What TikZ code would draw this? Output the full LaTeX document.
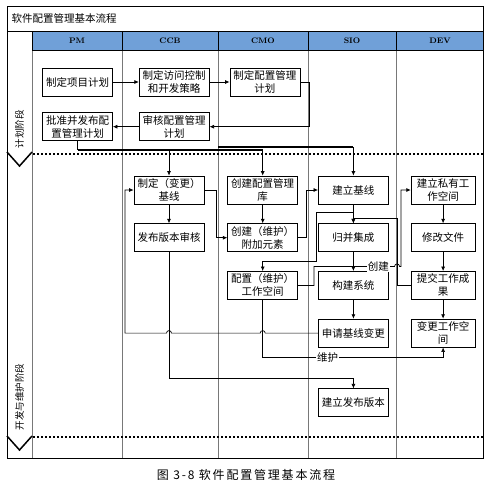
\documentclass[tikz,border=0pt]{standalone}
\usepackage{fontspec}
\usepackage{tikz}
\usetikzlibrary{arrows.meta, positioning, calc}
\usepackage{xcolor}
\newfontfamily\cjk{Noto Sans CJK SC}
\newfontfamily\cjkwide[LetterSpace=15]{Noto Sans CJK SC}
\definecolor{laneHead}{RGB}{112,160,216}
\definecolor{laneLine}{RGB}{120,120,120}

\begin{document}
\begin{tikzpicture}[
    x=1pt, y=1pt,
    node distance=19pt and 22pt,
    box2/.style={rectangle, draw, fill=white, minimum width=70pt, minimum height=28pt, inner sep=1pt, align=center, font=\cjk\fontsize{10.5}{13}\selectfont},
    devbox/.style={box2, minimum width=64pt},
    lbl/.style={fill=white, inner sep=1pt, font=\cjk\fontsize{10.5}{12}\selectfont},
    head/.style={font=\bfseries\fontsize{8}{9}\selectfont},
    phase/.style={rotate=90, font=\cjk\fontsize{9.5}{11}\selectfont},
    bus/.style={line width=1.8pt},
    sep/.style={line width=2pt, dash pattern=on 2pt off 2pt},
    line width=0.7pt,
    >={Latex[length=4.5pt,width=4pt]}
]
\useasboundingbox (0,0) rectangle (490,-485);

\fill[laneHead] (32,-31) rectangle (483,-50);
\foreach \lx in {122,218,308,396} {
  \draw[laneLine] (\lx,-50) -- (\lx,-458);
  \draw (\lx,-31) -- (\lx,-50);
}
\draw[laneLine] (32,-50) -- (32,-458);
\draw (32,-31) -- (32,-50);
\draw (7,-31) -- (483,-31) (32,-50) -- (483,-50);
\draw (7,-6) rectangle (483,-458);
\draw[sep] (33,-154) -- (483,-154);
\draw[sep] (33,-437) -- (483,-437);
\draw[line width=1.5pt] (7,-152) -- (19.5,-166) -- (32,-152);
\draw[line width=1.5pt] (7,-436) -- (19.5,-450) -- (32,-436);

\node[anchor=west, font=\cjk\fontsize{10.5}{12}\selectfont] (title) at (8,-18.5) {软件配置管理基本流程};
\foreach \nm/\cx in {PM/77,CCB/170,CMO/263,SIO/352,DEV/440}
  \node[head] (h\nm) at (\cx,-40.5) {\nm};
\node[phase] (ph1) at (19.5,-129) {计划阶段};
\node[phase] (ph2) at (19.5,-397) {开发与维护阶段};

\node[box2] (planProj) at (77.5,-82) {制定项目计划};
\node[box2, right=26pt of planProj] (planAcc) {制定访问控制\\和开发策略};
\node[box2, right=20pt of planAcc] (planCfg) {制定配置管理\\计划};
\node[box2, below=16pt of planProj] (approve) {批准并发布配\\置管理计划};
\node[box2, below=16pt of planAcc] (review) {审核配置管理\\计划};

\node[box2] (baseCh) at (169,-190) {制定（变更）\\基线};
\node[box2, below=of baseCh] (relReview) {发布版本审核};
\node[box2, right=23pt of baseCh] (cfgLib) {创建配置管理\\库};
\node[box2, below=of cfgLib] (addElem) {创建（维护）\\附加元素};
\node[box2, below=of addElem] (workSp) {配置（维护）\\工作空间};
\node[box2, right=20pt of cfgLib] (mkBase) {建立基线};
\node[box2, below=of mkBase] (merge) {归并集成};
\node[box2, below=of merge] (build) {构建系统};
\node[box2, below=of build] (reqChg) {申请基线变更};
\node[box2, below=41pt of reqChg] (mkRel) {建立发布版本};
\node[devbox, right=22pt of mkBase] (privWs) {建立私有工\\作空间};
\node[devbox, below=of privWs] (modFile) {修改文件};
\node[devbox, below=of modFile] (commit) {提交工作成\\果};
\node[devbox, below=of commit] (chgWs) {变更工作空\\间};

\draw[->] (planProj) -- (planAcc);
\draw[->] (planAcc) -- (planCfg);
\draw[->] (planCfg.east) -- ++(9,0) |- (review.east);
\draw[->] (review) -- (approve);

\coordinate (busA) at ([yshift=-9pt]approve.south);
\coordinate (busB) at ([yshift=-6pt]approve.south);
\coordinate (laneCMO) at (218,0);
\draw (approve.south) -- (busA);
\draw[bus] (busA) -- (busA -| cfgLib);
\draw[bus] (busB -| laneCMO) -- (busB -| mkBase);
\draw[->] (busA -| baseCh) -- (baseCh);
\draw[->] (busA -| cfgLib) -- (cfgLib);
\draw[->] (busB -| mkBase) -- (mkBase);

\draw[->] (baseCh) -- (relReview);
\draw[->] (baseCh.east) -- ++(12,0) |- (addElem.west);
\draw[->] (cfgLib) -- (addElem);
\draw[->] (addElem.east) -- ++(8,0) |- (mkBase.west);
\draw[->] (mkBase) -- (merge);
\coordinate (brA) at ([yshift=-8pt]mkBase.south);
\draw[->] (brA) -- ++(-37,0) -- ++(0,-49) -| (workSp.north);
\draw[->] (commit.west) -- ++(-13,0) |- ([yshift=5pt]merge.north) -- (merge.north);
\draw[->] (workSp.east) -| ++(16,19) -- node[lbl, pos=0.8] {创建} ++(80.5,0)
  arc[start angle=180, end angle=0, radius=2.5pt] -- ++(1.5,0) |- (privWs.west);
\draw[->] (merge) -- (build);
\draw[->] (build) -- (reqChg);
\draw[->] (reqChg.west) -- ($(reqChg.west -| workSp)+(2.5,0)$)
  arc[start angle=0, end angle=180, radius=2.5pt]
  -- ($(reqChg.west -| relReview)+(2.5,0)$)
  arc[start angle=0, end angle=180, radius=2.5pt]
  -- ++(-41.5,0) |- (baseCh.west);
\draw[->] (relReview.south) |- ([yshift=10pt]mkRel.north) -- (mkRel.north);
\draw[->] (workSp.south) |- node[lbl, pos=0.68] {维护} ([yshift=-10pt]chgWs.south) -- (chgWs.south);
\draw[->] (privWs) -- (modFile);
\draw[->] (modFile) -- (commit);
\draw[->] (commit) -- (chgWs);

\node[font=\cjkwide\fontsize{12}{14}\selectfont] (cap) at (246,-475) {图 3-8 软件配置管理基本流程};
\end{tikzpicture}
\end{document}
